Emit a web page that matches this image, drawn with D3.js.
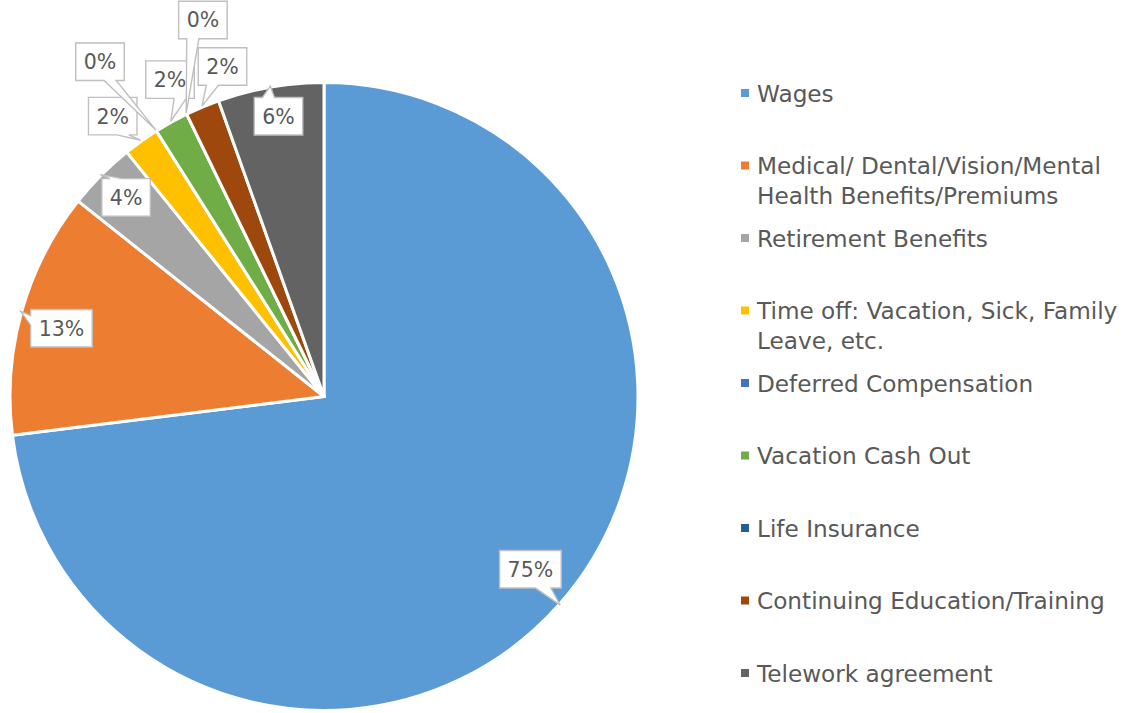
<!DOCTYPE html>
<html><head><meta charset="utf-8">
<script src="https://cdn.jsdelivr.net/npm/d3@7"></script>
<style>body{margin:0;background:#fff} svg{display:block}</style>
</head><body>
<svg id="c" width="1124" height="713"></svg>
<script>
const categories = ["Wages","Medical/ Dental/Vision/Mental Health Benefits/Premiums","Retirement Benefits","Time off: Vacation, Sick, Family Leave, etc.","Deferred Compensation","Vacation Cash Out","Life Insurance","Continuing Education/Training","Telework agreement"];
const values = [0.75,0.13,0.036,0.019,0,0.018,0,0.018,0.056];
const labels = ["75%","13%","4%","2%","0%","2%","0%","2%","6%"];
const colors = ["#5B9BD5","#ED7D31","#A5A5A5","#FFC000","#4472C4","#70AD47","#255E91","#9E480E","#636363"];
// layout: label box centre offsets from callout tip
const labelOffsets = [[-29.7,-35.7],[40.7,16.9],[25.7,22.8],[-28,-24.2],[-55.9,-68.3],[-0.8,-41.6],[16.7,-93.3],[20.5,-39.6],[8.2,30.2]];

const FONT = "'DejaVu Sans', sans-serif";
const TXT = "#595959";
const svg = d3.select("#c");
const cx = 324, cy = 396.5, R = 314;

const data = categories.map((c,i)=>({cat:c,value:values[i],label:labels[i],color:colors[i],off:labelOffsets[i]}));
const pie = d3.pie().sort(null).value(d=>d.value);
const arcs = pie(data);
const arc = d3.arc().innerRadius(0).outerRadius(R);

const g = svg.append("g").attr("transform",`translate(${cx},${cy})`);
g.selectAll("path.slice").data(arcs).join("path")
  .attr("class","slice")
  .attr("d",arc)
  .attr("fill",d=>d.data.color)
  .attr("stroke","#fff").attr("stroke-width",3).attr("stroke-linejoin","round");

// callout labels
const lg = svg.append("g");
arcs.forEach(a=>{
  const m = (a.startAngle+a.endAngle)/2;
  const tx = cx + (R+1)*Math.sin(m), ty = cy - (R+1)*Math.cos(m);
  const bx = tx + a.data.off[0], by = ty + a.data.off[1];
  const t = lg.append("text").attr("x",bx).attr("y",by+0.5)
    .attr("text-anchor","middle").attr("dominant-baseline","central")
    .attr("font-family",FONT).attr("font-size",20.5).attr("fill",TXT)
    .text(a.data.label);
  const tw = t.node().getComputedTextLength();
  const w = Math.max(tw + 16, 46), h = 37.5;
  const l = bx - w/2, top = by - h/2, r = l + w, b = top + h;
  const dxp = tx - bx, dyp = ty - by;
  const dq = dxp*h/w;
  let p;
  if (Math.abs(dyp) > Math.abs(dq)) {
    const x1 = l + w*(dxp>0?7:2)/12, x2 = l + w*(dxp>0?10:5)/12;
    if (dyp < 0) p = [[l,top],[x1,top],[tx,ty],[x2,top],[r,top],[r,b],[l,b]];
    else p = [[l,top],[r,top],[r,b],[x2,b],[tx,ty],[x1,b],[l,b]];
  } else {
    const y1 = top + h*(dyp>0?7:2)/12, y2 = top + h*(dyp>0?10:5)/12;
    if (dxp < 0) p = [[l,top],[r,top],[r,b],[l,b],[l,y2],[tx,ty],[l,y1]];
    else p = [[l,top],[r,top],[r,y1],[tx,ty],[r,y2],[r,b],[l,b]];
  }
  lg.insert("path","text").attr("d","M"+p.map(q=>q.join(",")).join("L")+"Z")
    .attr("fill","#fff").attr("stroke","#BFBFBF").attr("stroke-width",1.4);
});

// legend
const leg = svg.append("g");
const probe = leg.append("text").attr("font-family",FONT).attr("font-size",20).text("Continuing Education/Training");
const fs = 20*348/probe.node().getComputedTextLength();
probe.remove();
const maxW = 372;
function wrap(str){
  const words = str.split(" "); const lines=[]; let cur="";
  const t = leg.append("text").attr("font-family",FONT).attr("font-size",fs);
  words.forEach(wd=>{
    const test = cur? cur+" "+wd : wd;
    t.text(test);
    if (t.node().getComputedTextLength() > maxW && cur){ lines.push(cur); cur = wd; }
    else cur = test;
  });
  lines.push(cur); t.remove(); return lines;
}
const y0 = 101.5, step = 72.5, lh = 30;
data.forEach((d,i)=>{
  const y = y0 + i*step;
  leg.append("rect").attr("x",741).attr("y",y-12.5).attr("width",8).attr("height",8).attr("fill",d.color);
  const t = leg.append("text").attr("x",757).attr("y",y).attr("font-family",FONT).attr("font-size",fs).attr("fill",TXT);
  wrap(d.cat).forEach((ln,k)=>{
    t.append("tspan").attr("x",757).attr("y",y+k*lh).text(ln);
  });
});
</script>
</body></html>
